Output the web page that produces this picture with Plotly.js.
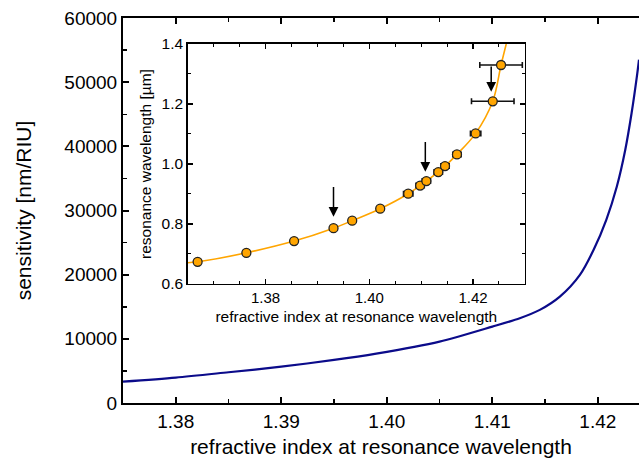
<!DOCTYPE html>
<html>
<head>
<meta charset="utf-8">
<script src="https://cdn.plot.ly/plotly-3.0.1.min.js"></script>
<style>html,body{margin:0;padding:0;background:#fff}#chart{width:639px;height:464px}</style>
</head>
<body>
<div id="chart"></div>
<script>
// Main chart: sensitivity vs refractive index
const sensIndex = [1.375, 1.380, 1.385, 1.390, 1.395, 1.399, 1.405, 1.410, 1.4126, 1.4145, 1.4164, 1.4183, 1.4196, 1.4208, 1.4218, 1.4226, 1.4232, 1.4237, 1.4239];
const sensValue = [3320, 3950, 4790, 5660, 6710, 7700, 9570, 11900, 13210, 14510, 16580, 19970, 23870, 28550, 33740, 39470, 45190, 50900, 53510];

// Inset: measured resonance wavelength
const measIndex = [1.3669, 1.3763, 1.3855, 1.3931, 1.3967, 1.4021, 1.4075, 1.4098, 1.4110, 1.4133, 1.4146, 1.4169, 1.4205, 1.4238, 1.4254];
const measWl    = [0.674, 0.704, 0.743, 0.786, 0.811, 0.851, 0.901, 0.928, 0.943, 0.973, 0.993, 1.032, 1.102, 1.209, 1.330];
const measErr   = [0.0003, 0.0003, 0.0003, 0.0003, 0.0003, 0.0003, 0.0009, 0.0008, 0.0008, 0.0008, 0.0008, 0.0008, 0.0010, 0.0041, 0.0041];

// Inset: fitted curve
const fitIndex = [1.365, 1.3669, 1.3763, 1.3855, 1.3931, 1.3967, 1.4021, 1.4075, 1.4110, 1.4146, 1.4169, 1.4205, 1.4238, 1.4254, 1.4264];
const fitWl    = [0.671, 0.674, 0.704, 0.743, 0.786, 0.811, 0.851, 0.901, 0.943, 0.993, 1.032, 1.102, 1.209, 1.330, 1.400];

// Arrows: [x, head y, tail y]
const arrowX    = [1.3931, 1.4108, 1.4235];
const arrowHead = [0.824, 0.974, 1.241];
const arrowTail = [0.928, 1.078, 1.330];

const font = 'Liberation Sans, Arial, sans-serif';

const traces = [
  {x: sensIndex, y: sensValue, xaxis: 'x', yaxis: 'y', mode: 'lines',
   line: {color: '#0b0b8a', width: 2.2, shape: 'spline', smoothing: 0.8}, hoverinfo: 'skip'},
  {x: fitIndex, y: fitWl, xaxis: 'x2', yaxis: 'y2', mode: 'lines',
   line: {color: '#ffa500', width: 1.6, shape: 'spline'}, hoverinfo: 'skip'},
  {x: measIndex, y: measWl, xaxis: 'x2', yaxis: 'y2', mode: 'markers',
   marker: {color: '#ffa500', size: 9, line: {color: '#222', width: 1.3}},
   error_x: {type: 'data', array: measErr, visible: true, color: '#111', thickness: 1.6, width: 3}}
];

const annotations = arrowX.map((x, i) => ({
  x: x, y: arrowHead[i], ax: x, ay: arrowTail[i],
  xref: 'x2', yref: 'y2', axref: 'x2', ayref: 'y2',
  text: '', showarrow: true, arrowhead: 2, arrowsize: 1.3, arrowwidth: 1.5, arrowcolor: '#000', standoff: 0
}));

const axisCommon = {
  showline: true, linecolor: '#000', ticks: 'inside', tickcolor: '#000',
  showgrid: false, zeroline: false
};

const layout = {
  width: 639, height: 464,
  margin: {l: 123, r: 0, t: 18, b: 61},
  paper_bgcolor: '#fff', plot_bgcolor: '#fff',
  showlegend: false,
  font: {family: font, color: '#000'},
  xaxis: Object.assign({}, axisCommon, {
    domain: [0, 1], range: [1.375, 1.4239], dtick: 0.01, tick0: 1.38, tickformat: '.2f',
    linewidth: 2, tickwidth: 2, ticklen: 6, mirror: 'allticks',
    minor: {dtick: 0.005, tick0: 1.375, ticks: 'inside', ticklen: 4, tickwidth: 1.5, tickcolor: '#000'},
    tickfont: {size: 19, family: font},
    title: {text: 'refractive index at resonance wavelength', font: {size: 21, family: font}, standoff: 9}
  }),
  yaxis: Object.assign({}, axisCommon, {
    domain: [0, 1], range: [0, 60000], dtick: 10000, tickformat: 'd',
    linewidth: 2, tickwidth: 2, ticklen: 6, mirror: false,
    minor: {dtick: 5000, ticks: 'inside', ticklen: 4, tickwidth: 1.5, tickcolor: '#000'},
    tickfont: {size: 19, family: font},
    title: {text: 'sensitivity [nm/RIU]', font: {size: 21, family: font}, standoff: 27}
  }),
  xaxis2: Object.assign({}, axisCommon, {
    domain: [0.1255, 0.7789], anchor: 'y2', range: [1.365, 1.43], dtick: 0.02, tick0: 1.38, tickformat: '.2f',
    linewidth: 1.5, tickwidth: 1.5, ticklen: 5, mirror: 'allticks',
    minor: {dtick: 0.005, tick0: 1.365, ticks: 'inside', ticklen: 3, tickwidth: 1, tickcolor: '#000'},
    tickfont: {size: 15, family: font},
    title: {text: 'refractive index at resonance wavelength', font: {size: 15.5, family: font}, standoff: 5}
  }),
  yaxis2: Object.assign({}, axisCommon, {
    domain: [0.3091, 0.9325], anchor: 'x2', range: [0.6, 1.4], dtick: 0.2, tickformat: '.1f',
    linewidth: 1.5, tickwidth: 1.5, ticklen: 5, mirror: 'allticks',
    minor: {dtick: 0.1, ticks: 'inside', ticklen: 3, tickwidth: 1, tickcolor: '#000'},
    tickfont: {size: 15.5, family: font},
    title: {text: 'resonance wavelength [µm]', font: {size: 15.5, family: font}, standoff: 6}
  }),
  annotations: annotations
};

Plotly.newPlot('chart', traces, layout, {staticPlot: true, displayModeBar: false});
</script>
</body>
</html>
